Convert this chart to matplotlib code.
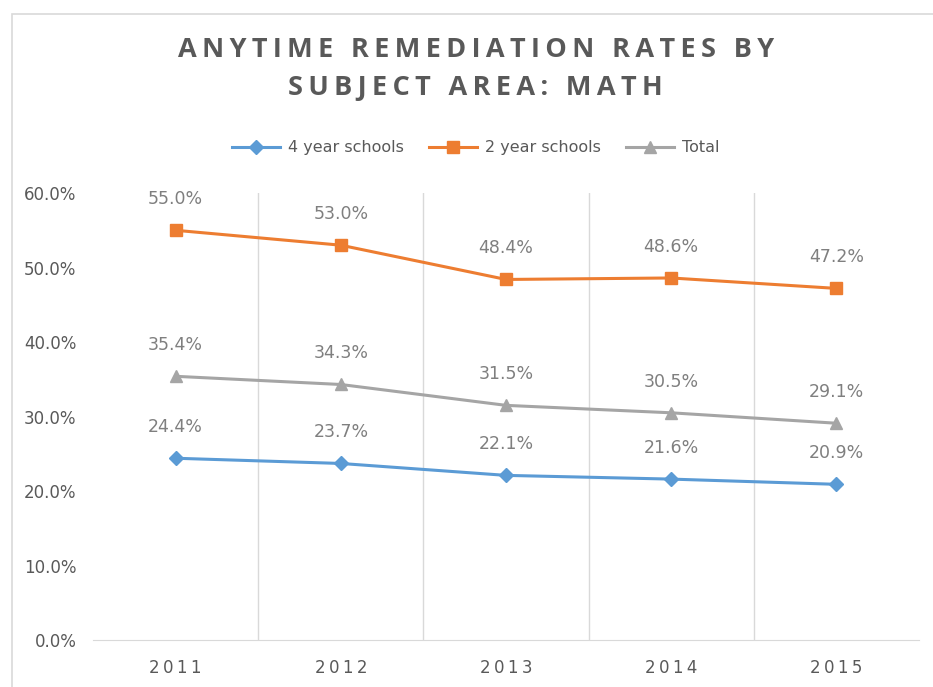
import numpy as np
import matplotlib.pyplot as plt
from matplotlib.patches import Rectangle

years = ['2011', '2012', '2013', '2014', '2015']
four_year = [24.4, 23.7, 22.1, 21.6, 20.9]
two_year = [55.0, 53.0, 48.4, 48.6, 47.2]
total = [35.4, 34.3, 31.5, 30.5, 29.1]

title_lines = ['ANYTIME REMEDIATION RATES BY', 'SUBJECT AREA: MATH']


def spaced(s):
    # widen letter spacing with thin spaces
    return '\u2009 \u2009'.join('\u2009'.join(w) for w in s.split(' '))


fig = plt.figure(figsize=(9.33, 6.87), dpi=100)
ax = fig.add_axes([0.0997, 0.0684, 0.8853, 0.6506])

x = np.arange(len(years))
series = [
    ('4 year schools', four_year, '#5B9BD5', 'D', 7),
    ('2 year schools', two_year, '#ED7D31', 's', 8),
    ('Total', total, '#A5A5A5', '^', 9),
]
for name, vals, col, mk, ms in series:
    ax.plot(x, vals, color=col, lw=2.2, marker=mk, markersize=ms, label=name)
    for xi, v in zip(x, vals):
        ax.annotate('{:.1f}%'.format(v), (xi, v), xytext=(0, 16), textcoords='offset points',
                    ha='center', va='bottom', fontsize=12.5, color='#7F7F7F')

ax.set_xlim(-0.5, len(years) - 0.5)
ax.set_ylim(0, 60)
ax.set_yticks(np.arange(0, 61, 10))
ax.set_yticklabels(['{:.1f}%'.format(v) for v in np.arange(0, 61, 10)])
ax.set_xticks(x)
ax.set_xticklabels(['\u2009'.join(y) for y in years])
ax.tick_params(length=0, labelsize=12, labelcolor='#595959')
ax.tick_params(axis='x', pad=14)
ax.tick_params(axis='y', pad=12)

for b in np.arange(0.5, len(years) - 0.5, 1):
    ax.axvline(b, color='#D9D9D9', lw=1, zorder=0)
for s in ['top', 'right', 'left']:
    ax.spines[s].set_visible(False)
ax.spines['bottom'].set_color('#D9D9D9')

fig.text(0.51, 0.9, '\n'.join(spaced(t) for t in title_lines),
         ha='center', va='center', fontsize=19.5, fontweight='bold', color='#595959',
         family='Open Sans', linespacing=1.6)

fig.legend(loc='center', bbox_to_anchor=(0.51, 0.785), ncol=3, frameon=False,
           fontsize=11.5, labelcolor='#595959', handlelength=3.0, columnspacing=1.6, handletextpad=0.5)

fig.patches.append(Rectangle((0.013, -0.1), 1.2, 1.08, transform=fig.transFigure,
                             fill=False, edgecolor='#D9D9D9', lw=1.2))

fig.savefig('out.png', dpi=100)
